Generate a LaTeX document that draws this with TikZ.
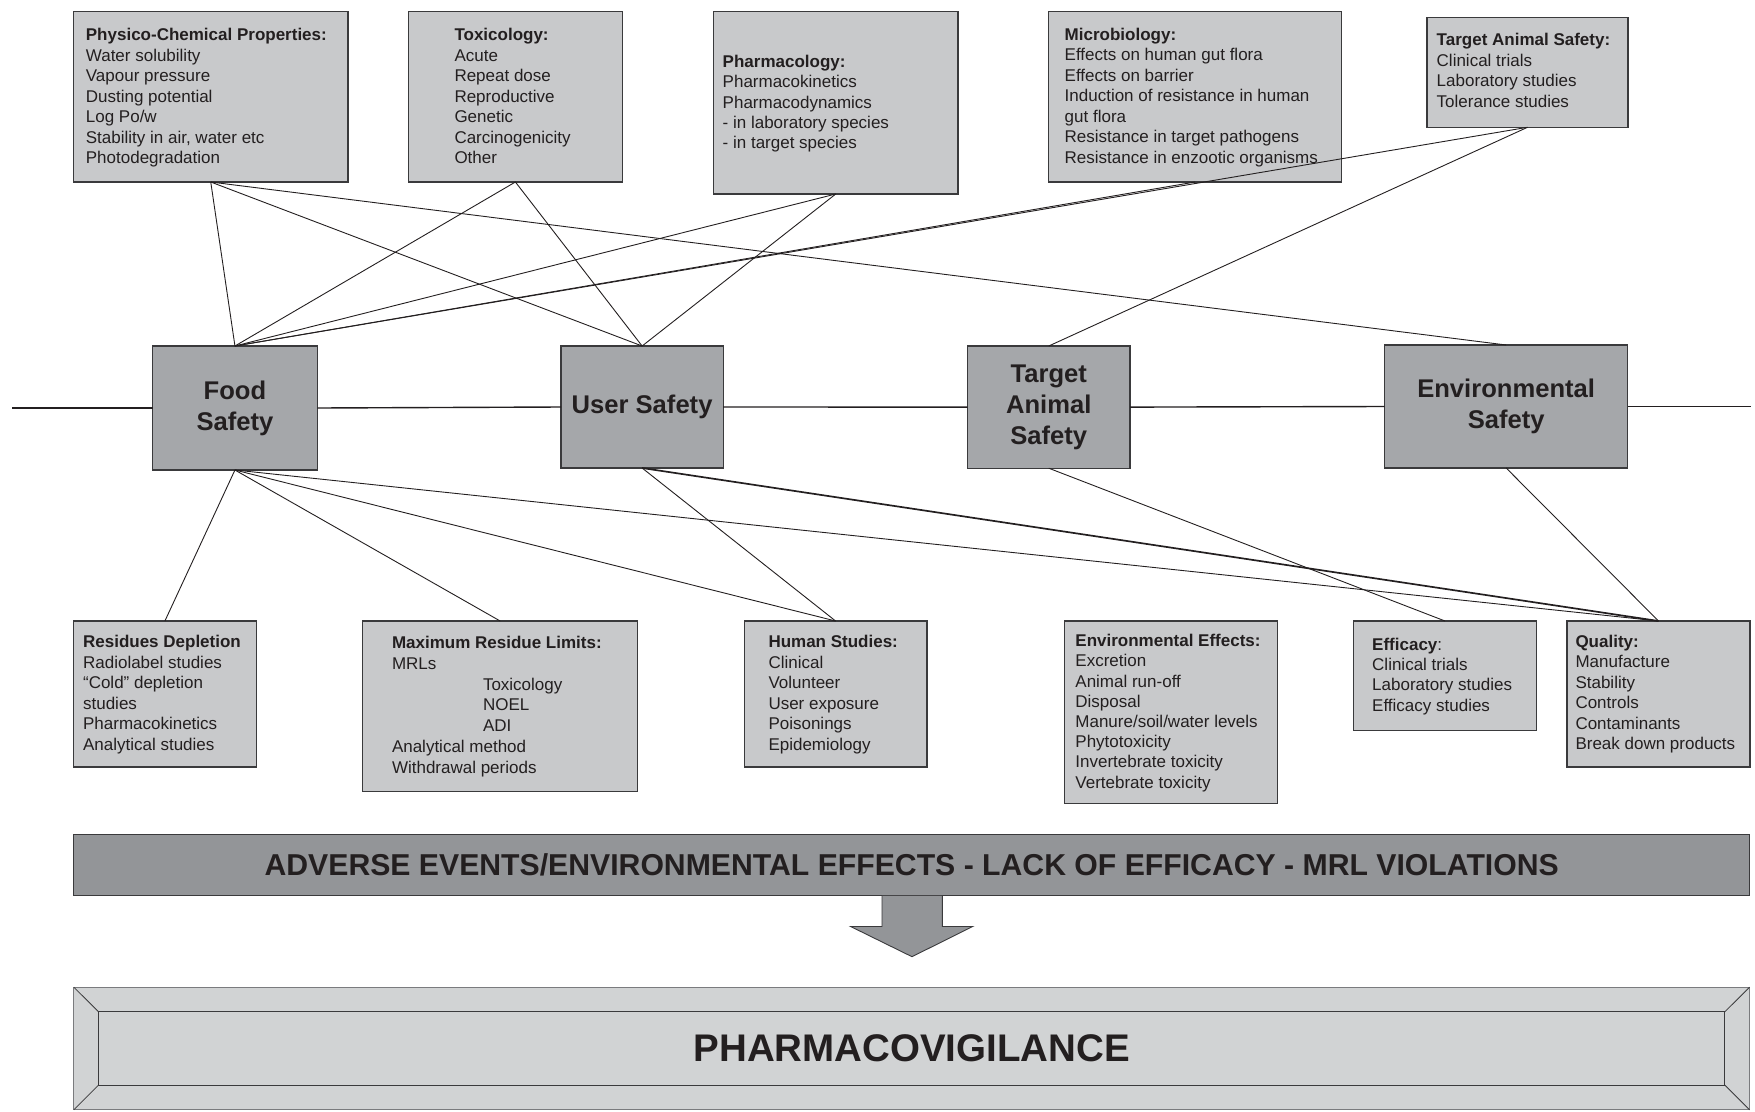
\documentclass[tikz,border=0pt]{standalone}
\usepackage{fontspec}
\setmainfont{Liberation Sans}

\definecolor{ink}{HTML}{231F20}
\definecolor{edge}{HTML}{3A3A3C}
\definecolor{lightbox}{HTML}{C8C9CB}
\definecolor{midbox}{HTML}{A5A7AA}
\definecolor{band}{HTML}{939598}
\definecolor{pale}{HTML}{D1D3D4}
\definecolor{rim}{HTML}{7A7B7E}

\newcommand\bodyfont{\fontsize{17}{20.5}\selectfont}
\newcommand\hubfont{\fontsize{25.6}{31}\selectfont\bfseries}

\begin{document}
\begin{tikzpicture}[x=1pt,y=-1pt,
  panel/.style={draw=edge, line width=1.1pt, fill=lightbox, rectangle,
    inner sep=0pt, outer sep=0pt, anchor=north west},
  hub/.style={draw=edge, line width=1.1pt, fill=midbox, rectangle,
    inner sep=0pt, outer sep=0pt, font=\hubfont, text=ink, align=center},
  txt/.style={anchor=north west, inner sep=0pt, align=left, font=\bodyfont, text=ink},
  link/.style={draw=ink, line width=0.9pt},
  spine/.style={draw=ink, line width=1.4pt},
]
\useasboundingbox (0,0) rectangle (1755,1111);

% ---------- upper panels ----------
\node[panel, minimum width=274.5, minimum height=170.5] (phys) at (73.5,11.5) {};
\node[panel, minimum width=213.8, minimum height=170.5] (tox) at (408.5,11.5) {};
\node[panel, minimum width=244.5, minimum height=182.5] (pharm) at (713.5,11.5) {};
\node[panel, minimum width=292.8, minimum height=170.5] (micro) at (1048.7,11.5) {};
\node[panel, minimum width=201, minimum height=110] (tasbox) at (1427,17.3) {};

\node[txt] (phys-t) at (85.7,26) {\strut\textbf{Physico-Chemical Properties:}\\Water solubility\\Vapour pressure\\Dusting potential\\Log Po/w\\Stability in air, water etc\\Photodegradation};
\node[txt] (tox-t) at (454.3,26) {\strut\textbf{Toxicology:}\\Acute\\Repeat dose\\Reproductive\\Genetic\\Carcinogenicity\\Other};
\node[txt, font=\fontsize{17}{20.3}\selectfont] (pharm-t) at (722.5,53.2) {\strut\textbf{Pharmacology:}\\Pharmacokinetics\\Pharmacodynamics\\- in laboratory species\\- in target species};
\node[txt] (micro-t) at (1064.5,25.5) {\strut\textbf{Microbiology:}\\Effects on human gut flora\\Effects on barrier\\Induction of resistance in human\\gut flora\\Resistance in target pathogens\\Resistance in enzootic organisms};
\node[txt] (tasbox-t) at (1436.5,31) {\strut\textbf{Target Animal Safety:}\\Clinical trials\\Laboratory studies\\Tolerance studies};

% ---------- lower panels ----------
\node[panel, minimum width=182.8, minimum height=146] (resid) at (73.5,621) {};
\node[panel, minimum width=274.7, minimum height=170.5] (mrl) at (362.8,621) {};
\node[panel, minimum width=182.8, minimum height=146] (human) at (744.2,621) {};
\node[panel, minimum width=212.8, minimum height=182.5] (enveff) at (1064.5,621) {};
\node[panel, minimum width=183, minimum height=109.5] (effic) at (1353.5,621) {};
\node[panel, minimum width=183, minimum height=146] (quality) at (1567,621) {};

\node[txt] (resid-t) at (82.9,633.4) {\strut\textbf{Residues Depletion}\\Radiolabel studies\\“Cold” depletion\\studies\\Pharmacokinetics\\Analytical studies};
\node[txt, font=\fontsize{17}{20.9}\selectfont] (mrl-t) at (391.8,633.4) {\strut\textbf{Maximum Residue Limits:}\\MRLs\\\hspace*{91pt}Toxicology\\\hspace*{91pt}NOEL\\\hspace*{91pt}ADI\\Analytical method\\Withdrawal periods};
\node[txt] (human-t) at (768.3,633.4) {\strut\textbf{Human Studies:}\\Clinical\\Volunteer\\User exposure\\Poisonings\\Epidemiology};
\node[txt, font=\fontsize{17}{20.2}\selectfont] (enveff-t) at (1075.2,632.4) {\strut\textbf{Environmental Effects:}\\Excretion\\Animal run-off\\Disposal\\Manure/soil/water levels\\Phytotoxicity\\Invertebrate toxicity\\Vertebrate toxicity};
\node[txt, font=\fontsize{17}{20.3}\selectfont] (effic-t) at (1372,635.7) {\strut\textbf{Efficacy}:\\Clinical trials\\Laboratory studies\\Efficacy studies};
\node[txt, font=\fontsize{17}{20.4}\selectfont] (quality-t) at (1575.3,633) {\strut\textbf{Quality:}\\Manufacture\\Stability\\Controls\\Contaminants\\Break down products};

% ---------- central axis ----------
\coordinate (axisL) at (12.3,408);
\coordinate (axisR) at (1751,406.5);
\node[hub, minimum width=164.9, minimum height=124] (food) at (234.95,408) {Food\\Safety};
\node[hub, minimum width=162.2, minimum height=122] (user) at (642.1,407) {User Safety};
\node[hub, minimum width=162.5, minimum height=122.2] (tas) at (1048.75,407.1) {Target\\Animal\\Safety};
\node[hub, minimum width=243.3, minimum height=123] (env) at (1506.15,406.5) {Environmental\\Safety};

\draw[spine] (axisL) -- (food.west);
\draw[spine] (food.east) -- (user.west);
\draw[spine] (user.east) -- (tas.west);
\draw[spine] (tas.east) -- (env.west);
\draw[spine] (env.east) -- (axisR);

% ---------- links to the upper panels ----------
\draw[link] (phys.south) -- (food.north);
\draw[link] (phys.south) -- (user.north);
\draw[link] (phys.south) -- (env.north);
\draw[link] (tox.south) -- (food.north);
\draw[link] (tox.south) -- (user.north);
\draw[link] (pharm.south) -- (food.north);
\draw[link] (pharm.south) -- (user.north);
\draw[link] (micro.south) -- (food.north);
\draw[link] (tasbox.south) -- (food.north);
\draw[link] (tasbox.south) -- (tas.north);

% ---------- links to the lower panels ----------
\draw[link] (food.south) -- (resid.north);
\draw[link] (food.south) -- (mrl.north);
\draw[link] (food.south) -- (human.north);
\draw[link] (food.south) -- (quality.north);
\draw[link] (user.south) -- (human.north);
\draw[link, line width=1.7pt] (user.south) -- (quality.north);
\draw[link] (tas.south) -- (effic.north);
\draw[link] (env.south) -- (quality.north);

% ---------- outcome band and arrow ----------
\node[draw=edge, line width=1.1pt, fill=band, rectangle, inner sep=0pt, outer sep=0pt,
  minimum width=1675.6, minimum height=61, text=ink,
  font=\fontsize{30.2}{34}\selectfont\bfseries] (banner) at (911.7,864.8)
  {ADVERSE EVENTS/ENVIRONMENTAL EFFECTS - LACK OF EFFICACY - MRL VIOLATIONS};

\draw[draw=edge, line width=0.9pt, fill=band]
  (882,895.8) -- (882,926.5) -- (850.6,926.5) -- (912,956.7)
  -- (972.6,926.5) -- (942.4,926.5) -- (942.4,895.8);

% ---------- bevelled frame ----------
\node[draw=rim, line width=1.1pt, fill=pale, rectangle, inner sep=0pt, outer sep=0pt,
  minimum width=1675.6, minimum height=122.5] (pv) at (911.7,1048.5) {};
\node[draw=edge, line width=1pt, fill=pale, rectangle, inner sep=0pt, outer sep=0pt,
  minimum width=1626.3, minimum height=73.3, text=ink,
  font=\fontsize{38.5}{44}\selectfont\bfseries] (pvin) at (911.7,1048.4) {PHARMACOVIGILANCE};
\draw[draw=edge, line width=0.8pt] (pv.north west) -- (pvin.north west);
\draw[draw=edge, line width=0.8pt] (pv.north east) -- (pvin.north east);
\draw[draw=edge, line width=0.8pt] (pv.south west) -- (pvin.south west);
\draw[draw=edge, line width=0.8pt] (pv.south east) -- (pvin.south east);
\end{tikzpicture}
\end{document}
